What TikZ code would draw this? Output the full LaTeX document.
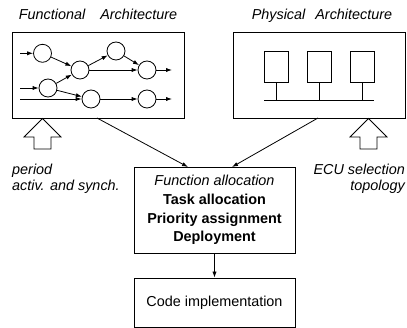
\documentclass[tikz,border=0pt]{standalone}
\usepackage{fontspec}
\setmainfont{Liberation Sans}
\usetikzlibrary{arrows.meta}
\tikzset{
  ln/.style={line width=0.8pt},
  arr/.style={ln,-{Latex[length=6pt,width=4.2pt]}},
  frame/.style={draw,ln,rectangle,inner sep=0pt},
  fn/.style={draw,ln,circle,minimum size=18pt,inner sep=0pt},
  ecu/.style={draw,ln,rectangle,minimum width=24pt,minimum height=31pt,inner sep=0pt},
  txt/.style={font=\fontsize{14.4}{18.7}\selectfont,inner sep=0pt},
  hollow/.style={draw,ln,fill=white,line join=miter}
}
\begin{document}
\begin{tikzpicture}[x=1pt,y=-1pt]
\useasboundingbox (0,0) rectangle (407,328);
% titles
\node[txt,anchor=base,font=\fontsize{14.4}{18.7}\selectfont\itshape] (tf) at (98,20) {Functional\hspace{11pt} Architecture};
\node[txt,anchor=base,font=\fontsize{14.4}{18.7}\selectfont\itshape] (tp) at (322,20) {Physical\hspace{6pt} Architecture};
% frames
\node[frame,minimum width=172pt,minimum height=86pt] (fa) at (98,75) {};
\node[frame,minimum width=172pt,minimum height=86pt] (pa) at (319,75) {};
% functional graph
\node[fn] (c1) at (42.5,53.3) {};
\node[fn] (c2) at (80,70) {};
\node[fn] (c3) at (116,51) {};
\node[fn] (c4) at (147,70) {};
\node[fn] (c5) at (48,88) {};
\node[fn] (c6) at (91,99) {};
\node[fn] (c7) at (147,99) {};
\coordinate (i1) at (20,53.3);
\coordinate (i2) at (20,88);
\coordinate (i3) at (20,99);
\coordinate (o1) at (172,70);
\coordinate (o2) at (172,99);
\draw[arr] (i1) -- (c1);
\draw[arr] (i2) -- (c5);
\draw[arr] (i3) -- (c6);
\draw[arr] (c1) -- (c2);
\draw[arr] (c5) -- (c2);
\draw[arr] (c5) -- (c6);
\draw[arr] (c2) -- (c3);
\draw[arr] (c3) -- (c4);
\draw[arr] (c2) -- (c4);
\draw[arr] (c6) -- (c7);
\draw[arr] (c4) -- (o1);
\draw[arr] (c7) -- (o2);
% physical architecture
\node[ecu] (e1) at (276,66.5) {};
\node[ecu] (e2) at (319,66.5) {};
\node[ecu] (e3) at (362,66.5) {};
\coordinate (b1) at (264,100);
\coordinate (b2) at (374,100);
\draw[ln] (b1) -- (b2);
\draw[ln] (e1.south) -- (e1.south |- b1);
\draw[ln] (e2.south) -- (e2.south |- b1);
\draw[ln] (e3.south) -- (e3.south |- b1);
% hollow arrows
\draw[hollow] (42.5,118.5) -- (61,137) -- (51,137) -- (51,149) -- (34,149) -- (34,137) -- (24,137) -- cycle;
\draw[hollow] (368.5,118.5) -- (387,137) -- (377,137) -- (377,149) -- (360,149) -- (360,137) -- (350,137) -- cycle;
% side texts
\node[txt,anchor=base west,font=\fontsize{14.4}{18.7}\selectfont\itshape] (l1) at (12,174.7) {period};
\node[txt,anchor=base west,font=\fontsize{14.4}{18.7}\selectfont\itshape] (l2) at (12,190.7) {activ. and synch.};
\node[txt,anchor=base east,font=\fontsize{14.4}{18.7}\selectfont\itshape] (r1) at (405,174.2) {ECU selection};
\node[txt,anchor=base east,font=\fontsize{14.4}{18.7}\selectfont\itshape] (r2) at (405,190.2) {topology};
% allocation box
\node[frame,txt,align=center,minimum width=161pt,minimum height=86pt] (mid) at (214.5,210)
  {{\itshape Function allocation}\\\textbf{Task allocation}\\\textbf{Priority assignment}\\\textbf{Deployment}};
\node[frame,txt,minimum width=161pt,minimum height=49pt] (code) at (214.5,302.5) {Code implementation};
% connectors
\coordinate (fs) at (97,118);
\coordinate (ps) at (318,118);
\coordinate (mi1) at (188,167);
\coordinate (mi2) at (232,167);
\draw[arr] (fs) -- (mi1);
\draw[arr] (ps) -- (mi2);
\draw[arr] (mid.south) -- (code.north);
\end{tikzpicture}
\end{document}
